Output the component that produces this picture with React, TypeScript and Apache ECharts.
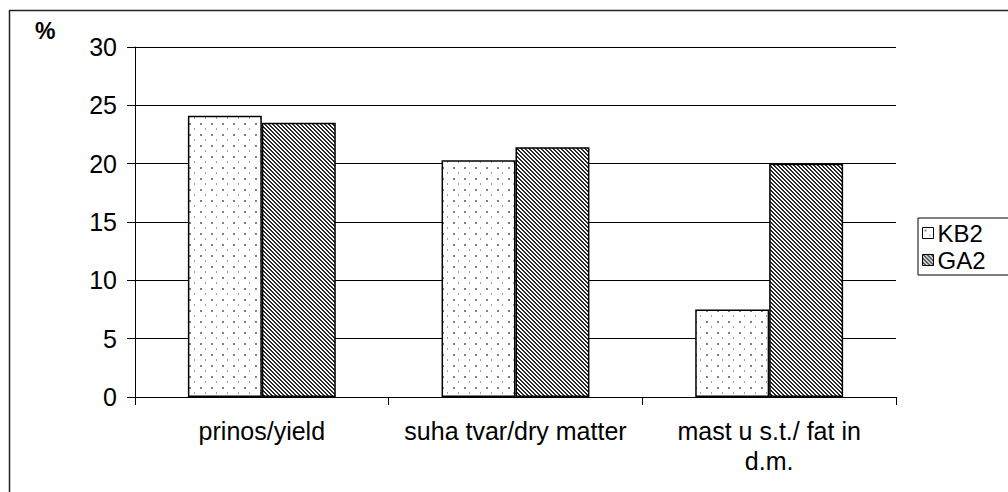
import React, { useEffect, useRef } from "react";
import * as echarts from "echarts";

const categories = ["prinos/yield", "suha tvar/dry matter", "mast u s.t./ fat in\nd.m."];
const seriesNames = ["KB2", "GA2"];
const kb2Values = [24.1, 20.3, 7.5];
const ga2Values = [23.5, 21.4, 20.0];
const yTicks = { min: 0, max: 30, interval: 5 };

function dotPattern(): HTMLCanvasElement {
  const c = document.createElement("canvas");
  c.width = 11;
  c.height = 11;
  const ctx = c.getContext("2d")!;
  ctx.fillStyle = "#ffffff";
  ctx.fillRect(0, 0, 11, 11);
  ctx.fillStyle = "#808080";
  ctx.fillRect(2, 2, 2, 2);
  ctx.fillStyle = "#a0a0a0";
  ctx.fillRect(7, 7, 1, 2);
  return c;
}

function hatchPattern(): HTMLCanvasElement {
  const c = document.createElement("canvas");
  c.width = 4;
  c.height = 4;
  const ctx = c.getContext("2d")!;
  ctx.fillStyle = "#ffffff";
  ctx.fillRect(0, 0, 4, 4);
  ctx.fillStyle = "#2a2a2a";
  for (let i = 0; i < 4; i++) {
    ctx.fillRect(i, i, 1, 1);
    ctx.fillRect((i + 1) % 4, i, 1, 1);
  }
  return c;
}

export default function App() {
  const ref = useRef<HTMLDivElement>(null);
  useEffect(() => {
    if (!ref.current) return;
    const chart = echarts.init(ref.current, null, { renderer: "svg" });
    const dots = { image: dotPattern(), repeat: "repeat", imageWidth: 11, imageHeight: 11 } as any;
    const hatch = { image: hatchPattern(), repeat: "repeat", imageWidth: 4, imageHeight: 4 } as any;
    const font = "Arial, 'Liberation Sans', sans-serif";
    chart.setOption({
      animation: false,
      backgroundColor: "#ffffff",
      textStyle: { fontFamily: font },
      grid: { left: 135, right: 112, top: 47, bottom: 95, containLabel: false },
      legend: {
        orient: "vertical",
        left: 918,
        top: 218,
        data: seriesNames,
        borderColor: "#000",
        borderWidth: 1,
        borderRadius: 0,
        padding: [3, 40, 3, 4],
        itemWidth: 11,
        itemHeight: 11,
        itemGap: 3,
        icon: "rect",
        itemStyle: { borderColor: "#000", borderWidth: 1 },
        textStyle: { fontSize: 24, lineHeight: 16, color: "#000", fontFamily: font, padding: [0, 0, 0, -1] },
      },
      xAxis: {
        type: "category",
        data: categories,
        axisLine: { lineStyle: { color: "#000", width: 1 } },
        axisTick: { show: true, length: 8, lineStyle: { color: "#000" } },
        axisLabel: { color: "#000", fontSize: 25, margin: 19, lineHeight: 30, interval: 0, fontFamily: font },
      },
      yAxis: {
        type: "value",
        min: yTicks.min,
        max: yTicks.max,
        interval: yTicks.interval,
        axisLine: { show: true, lineStyle: { color: "#000", width: 1 } },
        axisTick: { show: true, length: 8, lineStyle: { color: "#000" } },
        axisLabel: { color: "#000", fontSize: 25, margin: 18, fontFamily: font },
        splitLine: { show: true, lineStyle: { color: "#000", width: 1 } },
      },
      series: [
        {
          name: seriesNames[0],
          type: "bar",
          data: kb2Values,
          barGap: "0%",
          barCategoryGap: "41.7%",
          itemStyle: { color: dots, borderColor: "#000", borderWidth: 1.5 },
        },
        {
          name: seriesNames[1],
          type: "bar",
          data: ga2Values,
          itemStyle: { color: hatch, borderColor: "#000", borderWidth: 1.5 },
        },
      ],
      graphic: [
        {
          type: "line",
          shape: { x1: 9.5, y1: 10, x2: 9.5, y2: 492 },
          style: { stroke: "#222", lineWidth: 1.5 },
        },
        {
          type: "line",
          shape: { x1: 9, y1: 10.5, x2: 1008, y2: 10.5 },
          style: { stroke: "#222", lineWidth: 1.5 },
        },
        {
          type: "text",
          left: 35,
          top: 19,
          style: { text: "%", fontSize: 23, fontWeight: "bold", fill: "#000", fontFamily: font },
        },
      ],
    });
    return () => chart.dispose();
  }, []);
  return (
    <div
      ref={ref}
      style={{ position: "absolute", left: 0, top: 0, width: 1008, height: 492 }}
    />
  );
}
